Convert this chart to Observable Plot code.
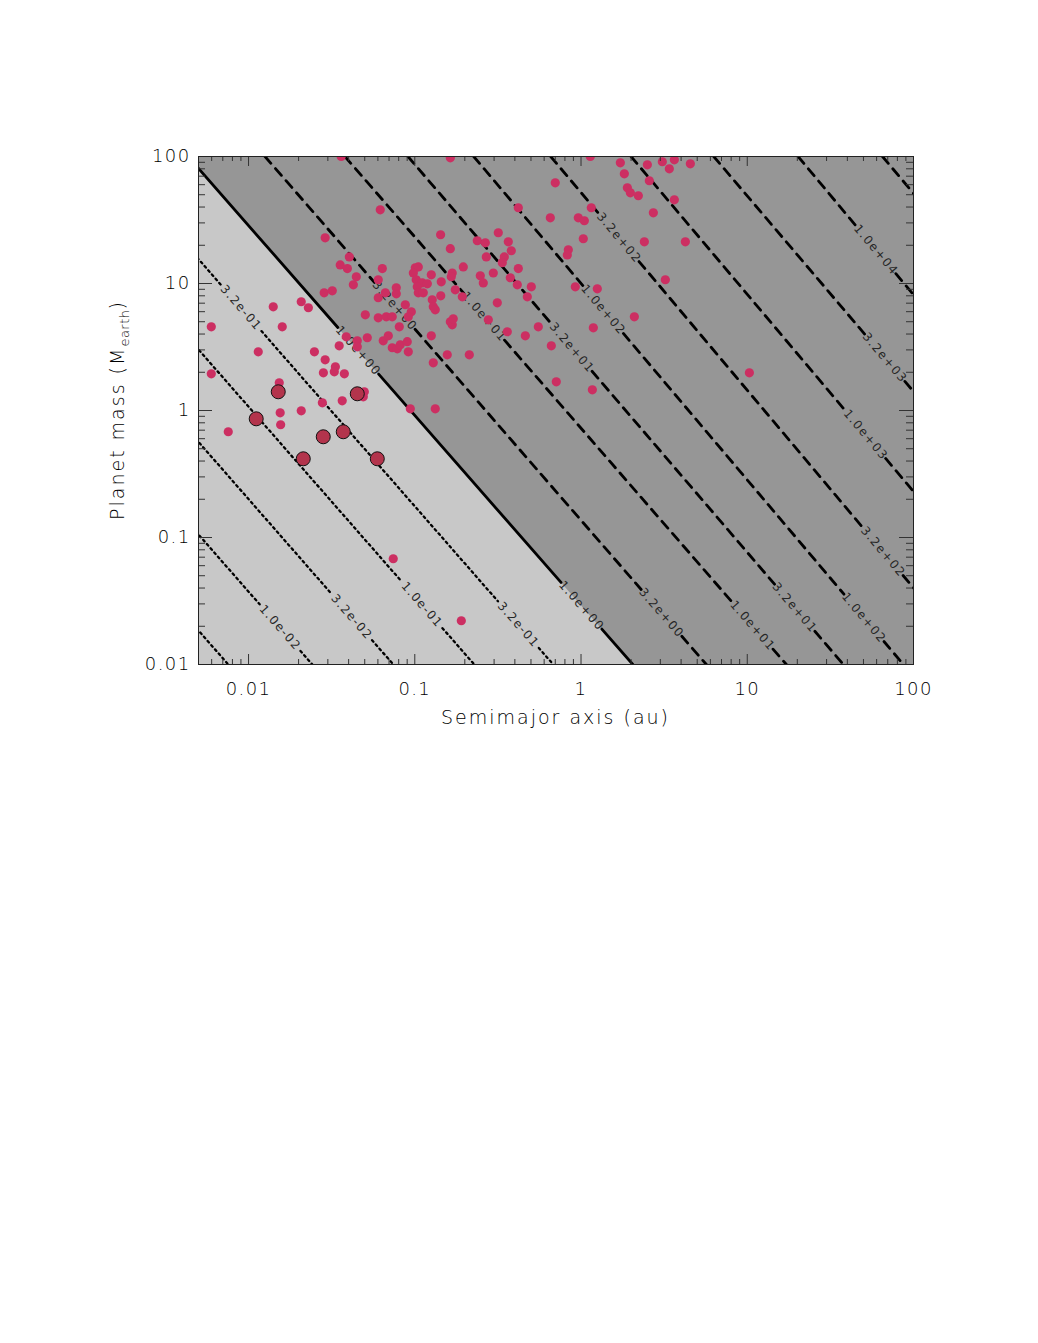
<!DOCTYPE html>
<html>
<head>
<meta charset="utf-8">
<script src="https://cdn.jsdelivr.net/npm/d3@7"></script>
<script src="https://cdn.jsdelivr.net/npm/@observablehq/plot@0.6"></script>
<style>
  html, body { margin: 0; padding: 0; background: #ffffff; }
  #chart { width: 1038px; height: 1343px; background: #ffffff; }
  #chart svg { display: block; }
</style>
</head>
<body>
<div id="chart"></div>
<script>
// ---------------- DATA ----------------
// Contour levels and where each contour line meets M = 100 (top) and M = 0.01 (bottom), semimajor axis in au
const levels    = [0.0032, 0.01, 0.032, 0.1, 0.32, 1, 3.2, 10, 32, 100, 320, 1000, 3200, 10000, 32000];
const aAtTop    = [1.59e-5, 5.1e-5, 1.57e-4, 4.81e-4, 1.44e-3, 4.33e-3, 0.01256, 0.0380, 0.0910, 0.2262, 0.6573, 2.0, 6.287, 20.22, 65.1];
const aAtBottom = [0.00755, 0.0242, 0.0743, 0.228, 0.681, 2.05, 5.675, 17.19, 37.86, 86.96, 244.1, 754, 2485, 7180, 24040];

// Contour labels: text, contour level, planet mass where the label sits
const labelText  = ["3.2e-01", "1.0e+00", "3.2e+00", "1.0e+01", "3.2e+01", "1.0e+02", "3.2e+02",
                    "1.0e+04", "3.2e+03", "1.0e+03", "3.2e+02", "1.0e+02", "3.2e+01", "1.0e+01",
                    "3.2e+00", "1.0e+00", "3.2e-01", "1.0e-01", "3.2e-02", "1.0e-02"];
const labelLevel = [0.32, 1, 3.2, 10, 32, 100, 320, 10000, 3200, 1000, 320, 100, 32, 10, 3.2, 1, 0.32, 0.1, 0.032, 0.01];
const labelMass  = [6.44, 2.95, 6.67, 5.47, 3.12, 6.21, 22.9, 18.4, 2.6, 0.644, 0.0772, 0.0233, 0.028, 0.0202,
                    0.0255, 0.029, 0.0206, 0.0295, 0.0237, 0.0195];

// Planets (small dots): semimajor axis (au) and mass (Earth masses)
const planetA = [0.0361, 0.0620, 0.0289, 0.143, 0.0404, 0.0356, 0.0393, 0.0445, 0.0427, 0.0638,
  0.0603, 0.1007, 0.105, 0.098, 0.1257, 0.102, 0.111, 0.119, 0.1035, 0.105,
  0.1125, 0.1443, 0.1433, 0.0774, 0.0774, 0.0665, 0.0603, 0.1274, 0.1292, 0.1328,
  0.0877, 0.0953, 0.0914, 0.0285, 0.0319, 0.0504, 0.0603, 0.0674, 0.0732, 0.01408,
  0.02075, 0.0229, 0.00597, 0.01595, 0.0807, 0.01144, 0.00597, 0.0153, 0.00755, 0.0155,
  0.0156, 0.02075, 0.0497, 0.0490, 0.0278, 0.0366, 0.0249, 0.0289, 0.0333, 0.0328,
  0.0282, 0.0377, 0.0351, 0.0387, 0.0451, 0.0451, 0.0518, 0.0646, 0.0693, 0.0732,
  0.0785, 0.0818, 0.0901, 0.0914, 0.1257, 0.1292, 0.094, 0.1328, 0.0742, 0.1905,
  0.168, 0.3602, 0.4624, 0.5535, 0.6628, 1.186, 0.1568, 0.2128, 0.710, 1.170,
  10.3, 0.1636, 1.137, 1.724, 1.822, 2.506, 2.576, 3.084, 3.398, 3.642,
  1.90, 1.98, 2.212, 3.642, 2.723, 2.404, 3.215, 2.093, 0.700, 0.4195,
  0.6536, 0.963, 1.047, 1.153, 1.032, 0.8387, 0.827, 0.3179, 0.1636, 0.2377,
  0.2656, 0.3652, 0.3807, 0.2693, 0.3455, 0.336, 0.1958, 0.168, 0.1658, 0.4195,
  0.2478, 0.2583, 0.2967, 0.3755, 0.4137, 0.5023, 0.924, 1.253, 0.1752, 0.1931,
  0.4753, 0.3136, 0.1636, 0.1704, 0.2769, 4.546, 4.242];
const planetM = [100, 38.0, 22.9, 24.2, 16.2, 14.0, 13.1, 11.3, 9.77, 13.1,
  10.7, 13.3, 13.5, 12.1, 11.7, 10.7, 10.1, 9.95, 9.42, 8.45,
  8.45, 10.3, 8.0, 9.25, 8.30, 8.45, 7.72, 7.44, 6.55, 6.21,
  6.80, 5.99, 5.47, 8.45, 8.76, 5.67, 5.37, 5.47, 5.47, 6.55,
  7.18, 6.44, 4.56, 4.56, 4.56, 2.90, 1.945, 1.652, 0.680, 0.959,
  0.772, 0.994, 1.404, 1.282, 1.150, 1.192, 2.90, 2.507, 2.209, 2.017,
  1.981, 1.945, 3.23, 3.80, 3.54, 3.17, 3.74, 3.54, 3.87, 3.12,
  3.06, 3.29, 3.48, 2.90, 3.87, 2.375, 1.031, 1.031, 0.068, 0.0221,
  4.73, 4.17, 3.87, 4.56, 3.23, 4.48, 2.746, 2.746, 1.683, 1.455,
  1.981, 97.7, 100, 89.2, 73.1, 86.0, 64.4, 90.9, 80.0, 94.2,
  56.7, 51.8, 49.1, 45.6, 36.0, 21.3, 10.7, 5.47, 62.1, 39.5,
  32.9, 32.9, 31.2, 39.5, 22.5, 18.4, 16.8, 25.1, 18.8, 21.7,
  20.9, 21.3, 18.1, 16.2, 16.2, 14.6, 13.5, 12.1, 11.3, 13.1,
  11.5, 10.1, 12.1, 11.1, 9.77, 9.42, 9.42, 9.08, 8.92, 7.86,
  7.86, 7.05, 4.99, 5.27, 5.18, 87.6, 21.3];

// Highlighted planets (large outlined dots)
const highlightA = [0.01112, 0.01509, 0.02134, 0.02815, 0.03713, 0.0451, 0.05949];
const highlightM = [0.860, 1.404, 0.4166, 0.621, 0.680, 1.354, 0.4166];

// Axis ticks
const xTicksMajor = [0.01, 0.1, 1, 10, 100];
const xTickLabels = ["0.01", "0.1", "1", "10", "100"];
const xTicksMinor = [0.005, 0.006, 0.007, 0.008, 0.009, 0.02, 0.03, 0.04, 0.05, 0.06, 0.07, 0.08, 0.09,
                     0.2, 0.3, 0.4, 0.5, 0.6, 0.7, 0.8, 0.9, 2, 3, 4, 5, 6, 7, 8, 9, 20, 30, 40, 50, 60, 70, 80, 90];
const yTicksMajor = [0.01, 0.1, 1, 10, 100];
const yTickLabels = ["0.01", "0.1", "1", "10", "100"];
const yTicksMinor = [0.02, 0.03, 0.04, 0.05, 0.06, 0.07, 0.08, 0.09, 0.2, 0.3, 0.4, 0.5, 0.6, 0.7, 0.8, 0.9,
                     2, 3, 4, 5, 6, 7, 8, 9, 20, 30, 40, 50, 60, 70, 80, 90];

const xTitle = "Semimajor axis (au)";
const yTitleMain = "Planet mass (M";
const yTitleSub = "earth";

// ---------------- LAYOUT ----------------
const W = 1038, H = 760;
const mL = 198, mR = 125, mT = 156, mB = 96;
const innerW = W - mL - mR, innerH = H - mT - mB;
const xDomain = [0.005, 100], yDomain = [0.01, 100];
const FONT = "DejaVu Sans";

const xScale = Plot.scale({x: {type: "log", domain: xDomain, range: [mL, W - mR]}});
const yScale = Plot.scale({y: {type: "log", domain: yDomain, range: [H - mB, mT]}});

const lmTop = Math.log10(yDomain[1]), lmBot = Math.log10(yDomain[0]);
const contours = levels.map((q, i) => {
  const p0 = [xScale.apply(aAtTop[i]), yScale.apply(yDomain[1])];
  const p1 = [xScale.apply(aAtBottom[i]), yScale.apply(yDomain[0])];
  return {q, i, len: Math.hypot(p1[0] - p0[0], p1[1] - p0[1]),
          angle: Math.atan2(p1[1] - p0[1], p1[0] - p0[0]) * 180 / Math.PI};
});
function at(c, t) {
  const l0 = Math.log10(aAtTop[c.i]), l1 = Math.log10(aAtBottom[c.i]);
  return {a: 10 ** (l0 + t * (l1 - l0)), m: 10 ** (lmTop + t * (lmBot - lmTop))};
}
const labels = labelText.map((text, k) => {
  const c = contours.find(c => c.q === labelLevel[k]);
  const t = (lmTop - Math.log10(labelMass[k])) / (lmTop - lmBot);
  const p = at(c, t);
  return {text, a: p.a, m: p.m, angle: c.angle, c, t};
});
const GAP = 31;
const segs = [];
contours.forEach(c => {
  const cuts = labels.filter(l => l.c === c)
    .map(l => [l.t - GAP / c.len, l.t + GAP / c.len]).sort((u, v) => u[0] - v[0]);
  let s = 0, k = 0;
  const push = (t0, t1) => {
    [at(c, t0), at(c, t1)].forEach(p => segs.push({...p, id: c.i + "-" + k, q: c.q}));
    k++;
  };
  for (const [g0, g1] of cuts) { push(s, g0); s = g1; }
  push(s, 1);
});

const solid = contours.find(c => c.q === 1);
const lightRegion = [
  {a: aAtTop[solid.i], y1: yDomain[0], y2: yDomain[1]},
  {a: aAtBottom[solid.i], y1: yDomain[0], y2: yDomain[0]}
];

const planets = planetA.map((a, i) => ({a, m: planetM[i]}));
const highlights = highlightA.map((a, i) => ({a, m: highlightM[i]}));

const tickColor = "#333";
const chart = Plot.plot({
  width: W, height: H,
  marginLeft: mL, marginRight: mR, marginTop: mT, marginBottom: mB,
  x: {type: "log", domain: xDomain, axis: null},
  y: {type: "log", domain: yDomain, axis: null},
  style: {fontFamily: FONT, background: "#ffffff", overflow: "visible"},
  marks: [
    Plot.frame({fill: "#969696"}),
    Plot.areaY(lightRegion, {x: "a", y1: "y1", y2: "y2", fill: "#c8c8c8", clip: true}),
    Plot.line(segs.filter(d => d.q < 1), {x: "a", y: "m", z: "id", stroke: "#000", strokeWidth: 2.3,
      strokeDasharray: "2,3.6", clip: true}),
    Plot.line(segs.filter(d => d.q > 1), {x: "a", y: "m", z: "id", stroke: "#000", strokeWidth: 2.8,
      strokeDasharray: "9,7", clip: true}),
    Plot.line(segs.filter(d => d.q === 1), {x: "a", y: "m", z: "id", stroke: "#000", strokeWidth: 2.8, clip: true}),
    Plot.text(labels, {x: "a", y: "m", text: "text", rotate: "angle", fill: "#262626",
      fontSize: 12, fontWeight: 400, textAnchor: "middle", lineAnchor: "middle", clip: true}),
    Plot.dot(planets, {x: "a", y: "m", r: 4.6, fill: "#cc2f62", clip: true}),
    Plot.dot(highlights, {x: "a", y: "m", r: 7, fill: "#b3344c", stroke: "#111", strokeWidth: 1}),
    // ticks: bottom, top, left, right
    Plot.tickX(xTicksMajor, {x: d => d, stroke: tickColor, insetTop: innerH - 10}),
    Plot.tickX(xTicksMinor, {x: d => d, stroke: tickColor, insetTop: innerH - 5}),
    Plot.tickX(xTicksMajor, {x: d => d, stroke: tickColor, insetBottom: innerH - 10}),
    Plot.tickX(xTicksMinor, {x: d => d, stroke: tickColor, insetBottom: innerH - 5}),
    Plot.tickY(yTicksMajor, {y: d => d, stroke: tickColor, insetRight: innerW - 14}),
    Plot.tickY(yTicksMinor, {y: d => d, stroke: tickColor, insetRight: innerW - 7}),
    Plot.tickY(yTicksMajor, {y: d => d, stroke: tickColor, insetLeft: innerW - 14}),
    Plot.tickY(yTicksMinor, {y: d => d, stroke: tickColor, insetLeft: innerW - 7}),
    Plot.frame({stroke: "#222", strokeWidth: 1}),
    Plot.text(xTicksMajor, {x: d => d, text: (d, i) => xTickLabels[i], frameAnchor: "bottom", dy: 25,
      fontSize: 18, fontWeight: 300, fill: "#000", textAnchor: "middle", lineAnchor: "middle"}),
    Plot.text(yTicksMajor, {y: d => d, text: (d, i) => yTickLabels[i], frameAnchor: "left", dx: -8,
      fontSize: 18, fontWeight: 300, fill: "#000", textAnchor: "end", lineAnchor: "middle"})
  ]
});

const svg = d3.select(chart);
svg.selectAll("text").attr("letter-spacing", "1.4px");
svg.append("text")
  .attr("x", mL + innerW / 2).attr("y", H - mB + 60)
  .attr("text-anchor", "middle").attr("font-family", FONT).attr("font-size", 19)
  .attr("font-weight", 300).attr("letter-spacing", "2px").attr("fill", "#000")
  .text(xTitle);
const yt = svg.append("text")
  .attr("transform", `translate(${mL - 74},${mT + innerH / 2}) rotate(-90)`)
  .attr("text-anchor", "middle").attr("font-family", FONT).attr("font-size", 19)
  .attr("font-weight", 300).attr("letter-spacing", "2px").attr("fill", "#000");
yt.append("tspan").text(yTitleMain);
yt.append("tspan").attr("font-size", 13).attr("dy", 5).attr("letter-spacing", "0.5px").text(yTitleSub);
yt.append("tspan").attr("dy", -5).text(")");

document.getElementById("chart").appendChild(chart);
</script>
</body>
</html>
